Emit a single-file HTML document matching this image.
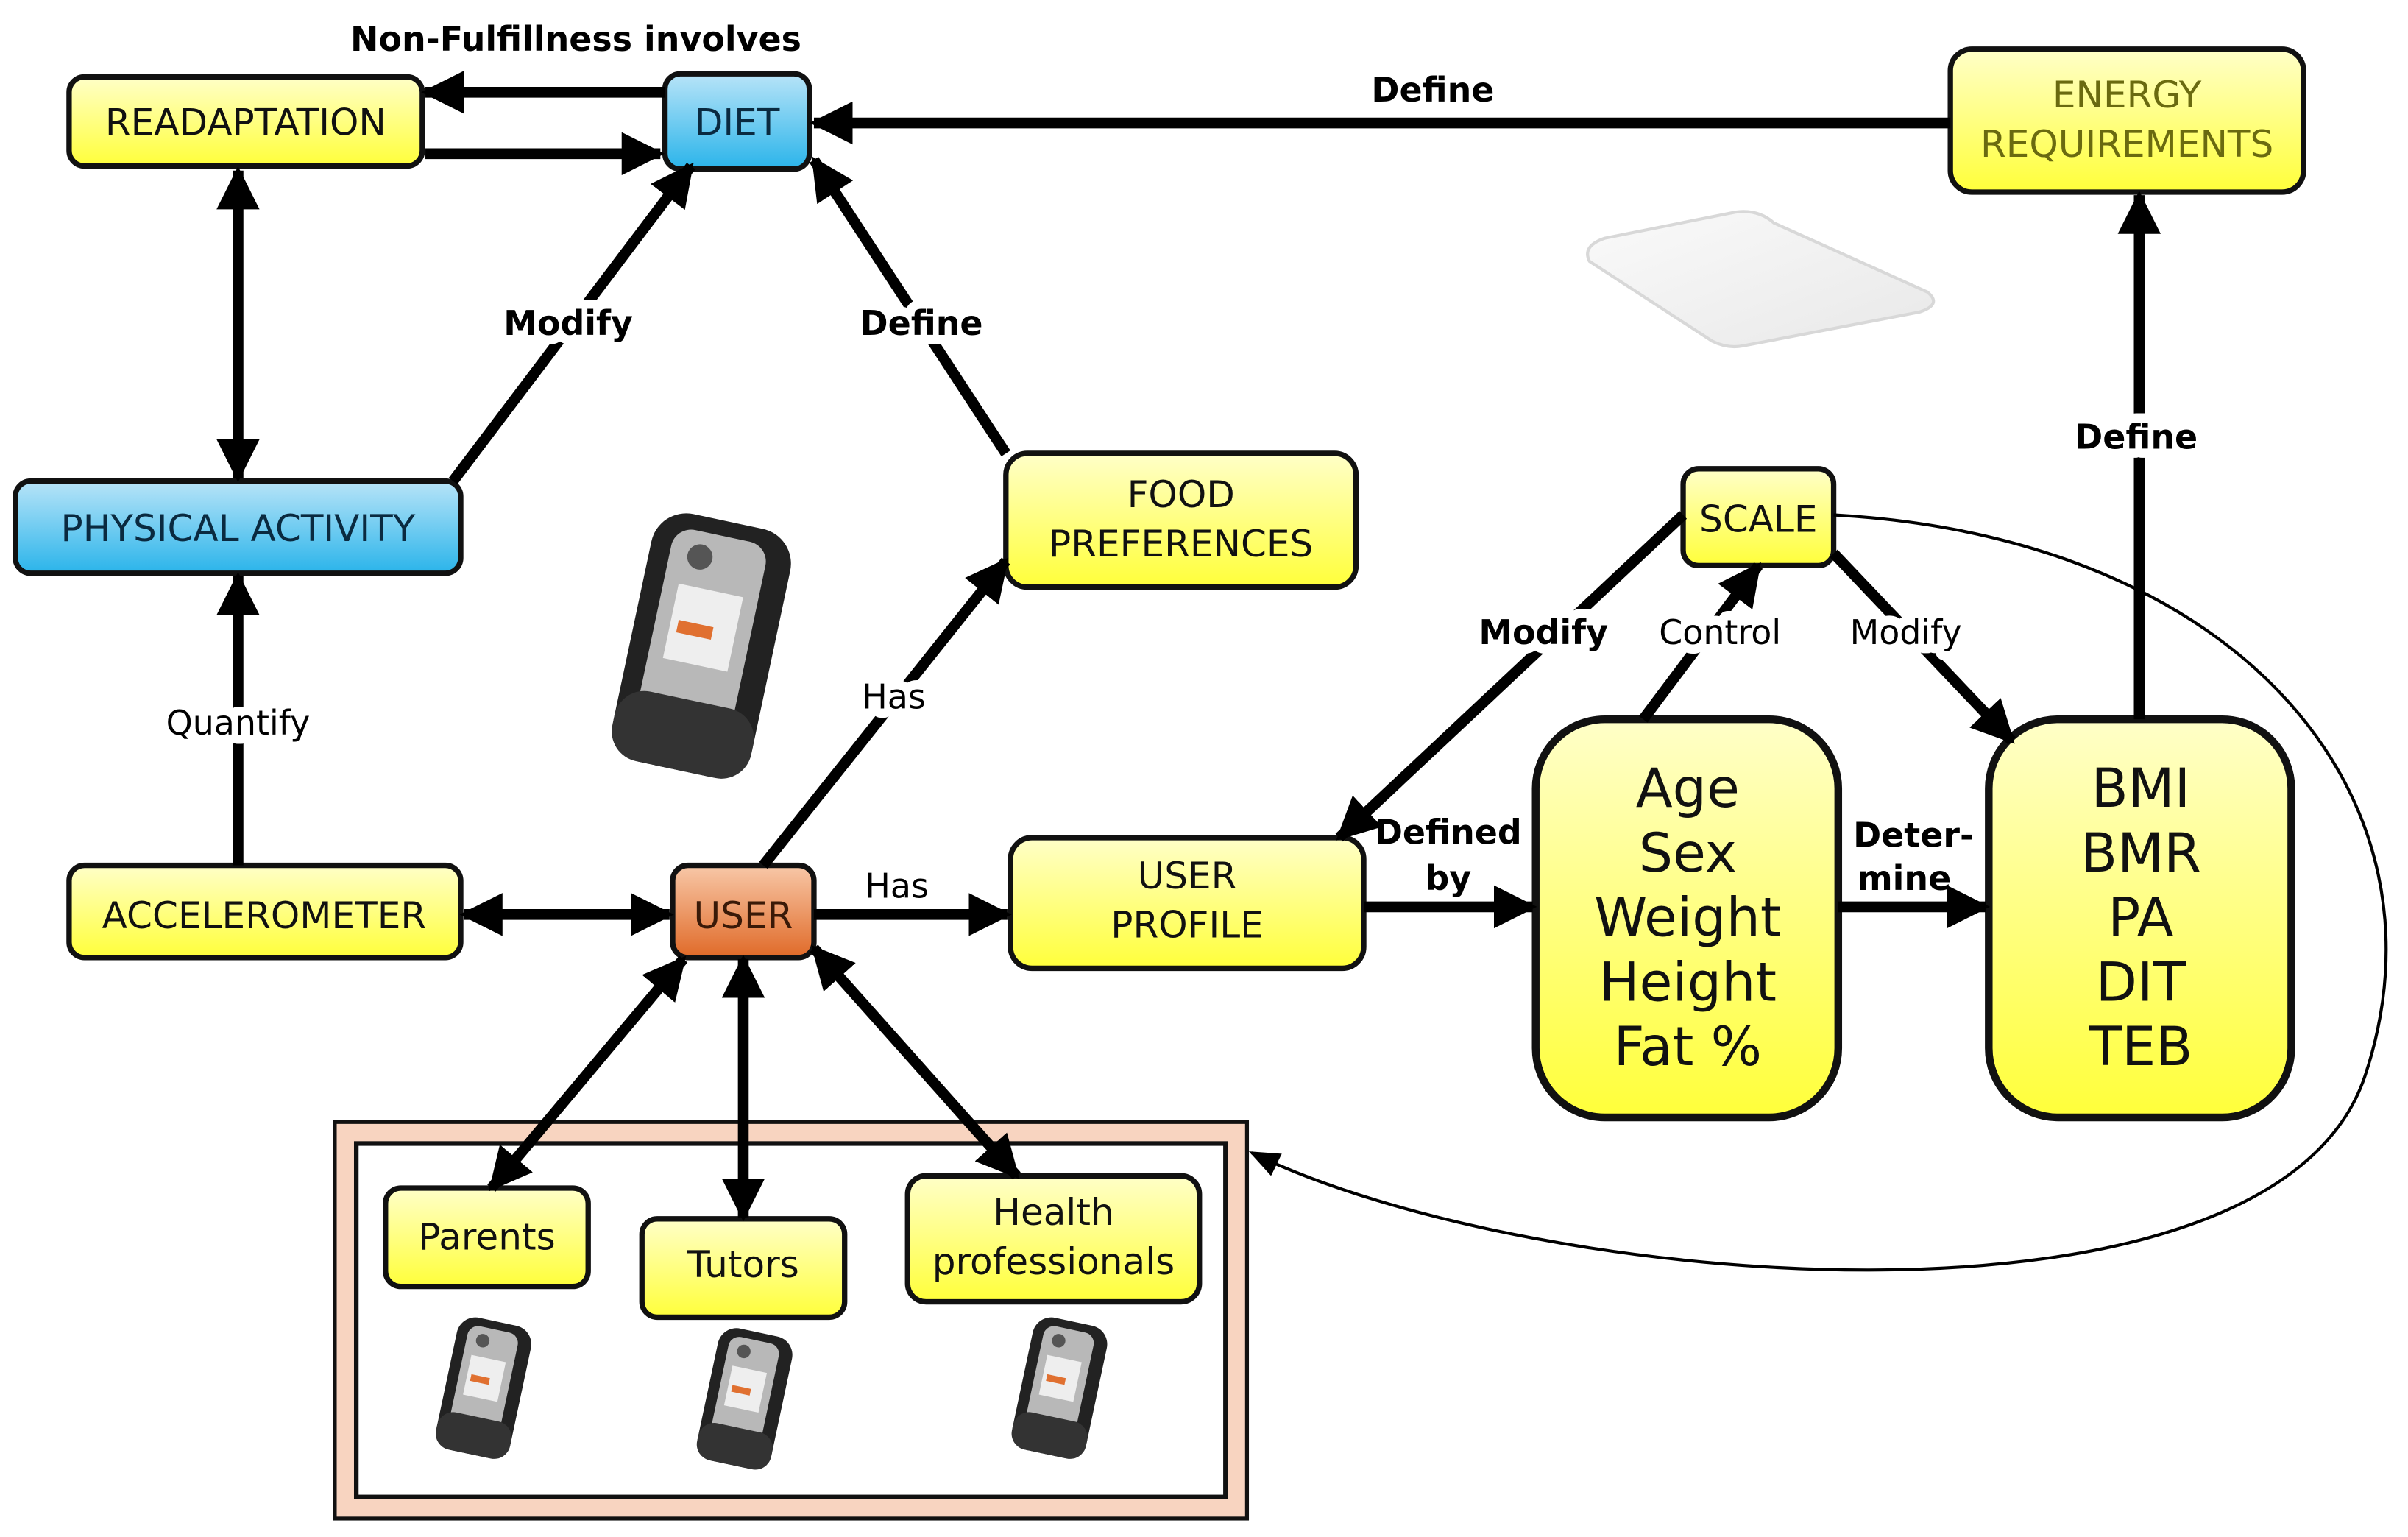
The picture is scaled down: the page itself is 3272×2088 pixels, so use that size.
<!DOCTYPE html>
<html><head><meta charset="utf-8"><style>
html,body{margin:0;padding:0;background:#fff;}
svg{display:block;}
text{font-family:"DejaVu Sans","Liberation Sans",sans-serif;}
</style></head><body>
<svg width="3272" height="2088" viewBox="0 0 1568 1000" preserveAspectRatio="none" xmlns="http://www.w3.org/2000/svg">
<defs>
<linearGradient id="y" x1="0" y1="0" x2="0" y2="1"><stop offset="0" stop-color="#ffffc8"/><stop offset="1" stop-color="#ffff3a"/></linearGradient>
<linearGradient id="b" x1="0" y1="0" x2="0" y2="1"><stop offset="0" stop-color="#b8e4f8"/><stop offset="1" stop-color="#2ab4ea"/></linearGradient>
<linearGradient id="o" x1="0" y1="0" x2="0" y2="1"><stop offset="0" stop-color="#f8c8a8"/><stop offset="1" stop-color="#e06a28"/></linearGradient>
<linearGradient id="s" x1="0" y1="0" x2="1" y2="1"><stop offset="0" stop-color="#fafafa"/><stop offset="1" stop-color="#e8e8e8"/></linearGradient>
<marker id="a" viewBox="0 0 10 10" refX="9" refY="5" markerWidth="4" markerHeight="4" orient="auto-start-reverse"><path d="M0,0 L10,5 L0,10 z" fill="#000"/></marker>
<marker id="a2" viewBox="0 0 10 10" refX="9" refY="5" markerWidth="10" markerHeight="10" orient="auto"><path d="M0,1 L10,5 L0,9 z" fill="#000"/></marker>
<g id="ph">
<g transform="rotate(12)">
<rect x="-28" y="-50" width="56" height="100" rx="14" fill="#222"/>
<rect x="-20" y="-44" width="38" height="86" rx="8" fill="#b8b8b8"/>
<rect x="-14" y="-22" width="26" height="30" fill="#eee"/>
<rect x="-11" y="-8" width="14" height="5" fill="#e07030"/>
<circle cx="-8" cy="-34" r="5" fill="#555"/>
<rect x="-28" y="22" width="56" height="28" rx="12" fill="#333"/>
</g>
</g>
</defs>

<!-- scale image -->
<path d="M1035,170 Q1030,160 1045,155 L1130,138 Q1145,136 1155,145 L1255,190 Q1265,198 1250,203 L1135,225 Q1125,227 1115,222 Z" fill="url(#s)" stroke="#d8d8d8" stroke-width="2"/>

<g stroke="#111" stroke-width="3.5">
<rect x="45" y="50" width="230" height="58" rx="10" fill="url(#y)"/>
<rect x="433" y="48" width="94" height="62" rx="10" fill="url(#b)"/>
<rect x="1270" y="32" width="230" height="93" rx="14" fill="url(#y)"/>
<rect x="10" y="313" width="290" height="60" rx="10" fill="url(#b)"/>
<rect x="655" y="295" width="228" height="87" rx="14" fill="url(#y)"/>
<rect x="1096" y="305" width="98" height="63" rx="10" fill="url(#y)"/>
<rect x="1000" y="468" width="197" height="259" rx="45" fill="url(#y)" stroke-width="5"/>
<rect x="1295" y="468" width="197" height="259" rx="45" fill="url(#y)" stroke-width="5"/>
<rect x="658" y="545" width="230" height="85" rx="14" fill="url(#y)"/>
<rect x="45" y="563" width="255" height="60" rx="10" fill="url(#y)"/>
<rect x="438" y="563" width="92" height="60" rx="10" fill="url(#o)"/>
<rect x="218" y="730" width="594" height="258" fill="#f8d4c0" stroke-width="2.5"/>
<rect x="232" y="744" width="566" height="230" fill="#fff" stroke-width="3"/>
<rect x="251" y="773" width="132" height="64" rx="10" fill="url(#y)"/>
<rect x="418" y="793" width="132" height="64" rx="10" fill="url(#y)"/>
<rect x="591" y="765" width="190" height="82" rx="12" fill="url(#y)"/>
</g>

<!-- phones -->
<use href="#ph" transform="translate(457,420) scale(1.65)"/>
<use href="#ph" transform="translate(315,903) scale(0.88)"/>
<use href="#ph" transform="translate(485,910) scale(0.88)"/>
<use href="#ph" transform="translate(690,903) scale(0.88)"/>

<g stroke="#000" stroke-width="7" fill="none" marker-end="url(#a)">
<line x1="433" y1="60" x2="277" y2="60"/>
<line x1="277" y1="100" x2="430" y2="100"/>
<line x1="1270" y1="80" x2="530" y2="80"/>
<line x1="155" y1="111" x2="155" y2="311" marker-start="url(#a)"/>
<line x1="295" y1="313" x2="450" y2="108"/>
<line x1="655" y1="295" x2="530" y2="104"/>
<line x1="155" y1="563" x2="155" y2="375"/>
<line x1="302" y1="595" x2="436" y2="595" marker-start="url(#a)"/>
<line x1="497" y1="563" x2="655" y2="365"/>
<line x1="530" y1="595" x2="656" y2="595"/>
<line x1="888" y1="590" x2="998" y2="590"/>
<line x1="1197" y1="590" x2="1293" y2="590"/>
<line x1="1393" y1="468" x2="1393" y2="127"/>
<line x1="1096" y1="335" x2="872" y2="545"/>
<line x1="1070" y1="468" x2="1145" y2="368"/>
<line x1="1194" y1="360" x2="1310" y2="482"/>
<line x1="445" y1="624" x2="320" y2="773" marker-start="url(#a)"/>
<line x1="484" y1="624" x2="484" y2="792" marker-start="url(#a)"/>
<line x1="530" y1="617" x2="662" y2="765" marker-start="url(#a)"/>
</g>
<path d="M1194,335 C1460,350 1600,520 1540,700 C1480,880 1000,840 815,750" stroke="#000" stroke-width="2" fill="none" marker-end="url(#a2)"/>

<g font-size="24" text-anchor="middle" fill="#111">
<text x="160" y="88">READAPTATION</text>
<text x="480" y="88" fill="#0a2a40">DIET</text>
<text x="1385" y="70" fill="#6a6a10">ENERGY</text>
<text x="1385" y="102" fill="#6a6a10">REQUIREMENTS</text>
<text x="155" y="352" fill="#0a2a40">PHYSICAL ACTIVITY</text>
<text x="769" y="330">FOOD</text>
<text x="769" y="362">PREFERENCES</text>
<text x="1145" y="346">SCALE</text>
<text x="773" y="578">USER</text>
<text x="773" y="610">PROFILE</text>
<text x="172" y="604">ACCELEROMETER</text>
<text x="484" y="604" fill="#3a1a08">USER</text>
<text x="317" y="813">Parents</text>
<text x="484" y="831">Tutors</text>
<text x="686" y="797">Health</text>
<text x="686" y="829">professionals</text>
</g>
<g font-size="35" text-anchor="middle" fill="#111">
<text x="1099" y="525">Age</text><text x="1099" y="567">Sex</text><text x="1099" y="609">Weight</text><text x="1099" y="651">Height</text><text x="1099" y="693">Fat %</text>
<text x="1394" y="525">BMI</text><text x="1394" y="567">BMR</text><text x="1394" y="609">PA</text><text x="1394" y="651">DIT</text><text x="1394" y="693">TEB</text>
</g>
<g font-size="22" text-anchor="middle" fill="#000" stroke="#fff" stroke-width="12" paint-order="stroke" stroke-linejoin="round">
<text x="375" y="33" font-weight="bold">Non-Fulfillness involves</text>
<text x="933" y="66" font-weight="bold">Define</text>
<text x="370" y="218" font-weight="bold">Modify</text>
<text x="600" y="218" font-weight="bold">Define</text>
<text x="155" y="478">Quantify</text>
<text x="582" y="461">Has</text>
<text x="584" y="584" stroke-width="0">Has</text>
<text x="943" y="549" font-weight="bold" stroke-width="0">Defined</text>
<text x="943" y="579" font-weight="bold" stroke-width="0">by</text>
<text x="1246" y="551" font-weight="bold" stroke-width="0">Deter-</text>
<text x="1240" y="579" font-weight="bold" stroke-width="0">mine</text>
<text x="1391" y="292" font-weight="bold">Define</text>
<text x="1005" y="419" font-weight="bold">Modify</text>
<text x="1120" y="419">Control</text>
<text x="1241" y="419">Modify</text>
</g>
</svg>
</body></html>
